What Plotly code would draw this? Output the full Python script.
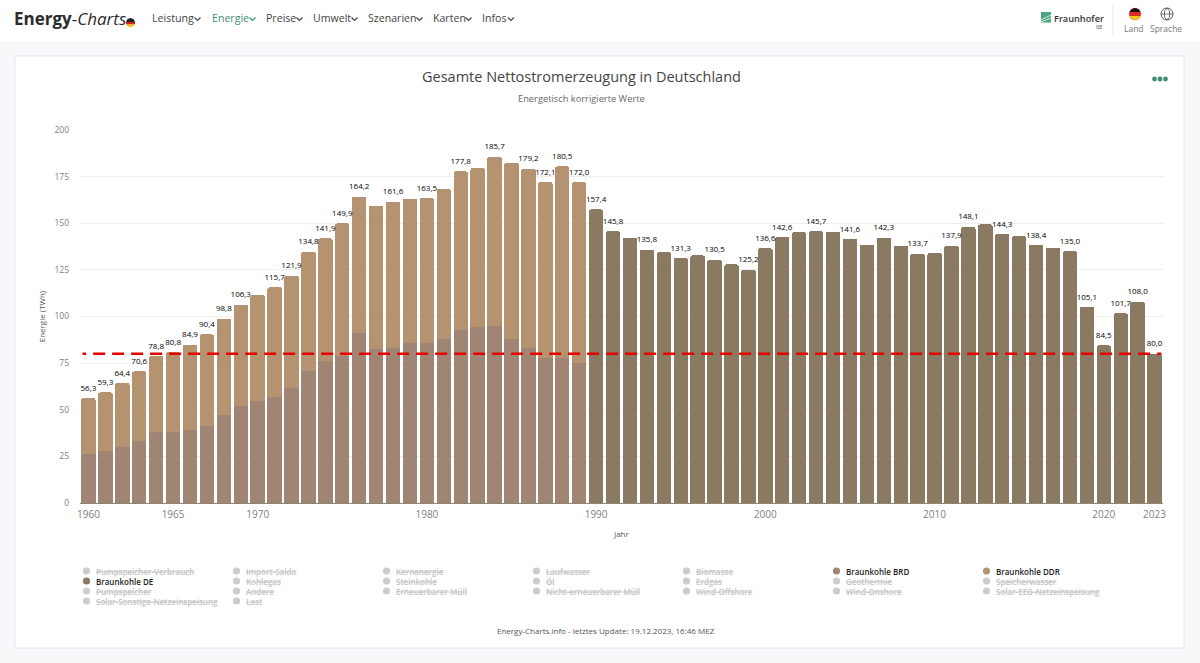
import plotly.graph_objects as go

W, H = 1200, 663

brd_years = list(range(1960, 1990))
de_years = list(range(1990, 2024))

braunkohle_brd = [26.3, 27.9, 30.0, 33.0, 38.2, 38.2, 39.3, 41.3, 47.3, 52.0,
                  54.5, 56.8, 61.7, 70.6, 76.3, 79.0, 91.0, 82.6, 83.0, 85.6,
                  85.6, 88.0, 93.0, 94.5, 95.0, 88.0, 83.0, 78.0, 78.0, 75.0]
braunkohle_ddr = [30.0, 31.4, 34.4, 37.6, 40.6, 42.6, 45.6, 49.1, 51.5, 54.3,
                  57.0, 58.9, 60.2, 64.2, 65.6, 70.9, 73.2, 76.7, 78.6, 77.6,
                  77.9, 80.3, 84.8, 85.3, 90.7, 94.5, 96.2, 94.1, 102.5, 97.0]
braunkohle_de = [157.4, 145.8, 142.3, 135.8, 134.5, 131.3, 132.8, 130.5, 128.0, 125.2,
                 136.6, 142.6, 145.2, 145.7, 145.3, 141.6, 138.5, 142.3, 138.0, 133.7,
                 134.0, 137.9, 148.1, 149.4, 144.3, 143.0, 138.4, 137.0, 135.0, 105.1,
                 84.5, 101.7, 108.0, 80.0]

label_years = [1960, 1961, 1962, 1963, 1964, 1965, 1966, 1967, 1968, 1969, 1971, 1972,
               1973, 1974, 1975, 1976, 1978, 1980, 1982, 1984, 1986, 1987, 1988, 1989,
               1990, 1991, 1993, 1995, 1997, 1999, 2000, 2001, 2003, 2005, 2007, 2009,
               2011, 2012, 2014, 2016, 2018, 2019, 2020, 2021, 2022, 2023]
label_values = [56.3, 59.3, 64.4, 70.6, 78.8, 80.8, 84.9, 90.4, 98.8, 106.3, 115.7, 121.9,
                134.8, 141.9, 149.9, 164.2, 161.6, 163.5, 177.8, 185.7, 179.2, 172.1, 180.5, 172.0,
                157.4, 145.8, 135.8, 131.3, 130.5, 125.2, 136.6, 142.6, 145.7, 141.6, 142.3, 133.7,
                137.9, 148.1, 144.3, 138.4, 135.0, 105.1, 84.5, 101.7, 108.0, 80.0]

ziel_x = [1959.65, 2023.4]
ziel_y = [80, 80]

x_ticks = [1960, 1965, 1970, 1980, 1990, 2000, 2010, 2020, 2023]
y_ticks = [0, 25, 50, 75, 100, 125, 150, 175, 200]

nav_items = ["Leistung", "Energie", "Preise", "Umwelt", "Szenarien", "Karten", "Infos"]
legend_rows = [
    ["Pumpspeicher-Verbrauch", "Import-Saldo", "Kernenergie", "Laufwasser", "Biomasse", "Braunkohle BRD", "Braunkohle DDR"],
    ["Braunkohle DE", "Kohlegas", "Steinkohle", "Öl", "Erdgas", "Geothermie", "Speicherwasser"],
    ["Pumpspeicher", "Andere", "Erneuerbarer Müll", "Nicht-erneuerbarer Müll", "Wind-Offshore", "Wind-Onshore", "Solar-EEG-Netzeinspeisung"],
    ["Solar-Sonstige-Netzeinspeisung", "Last"],
]

COL_BRD, COL_DDR, COL_DE = "#A08474", "#B59370", "#8B7A62"
legend_active = {"Braunkohle BRD": COL_BRD, "Braunkohle DDR": COL_DDR, "Braunkohle DE": COL_DE}
FONT = "Open Sans"
GREEN = "#3f8f73"


def px(x):
    return x / W


def py(y):
    return 1 - y / H


shapes, annos = [], []


def rect(x0, y0, x1, y1, fill, line=None, layer="below"):
    shapes.append(dict(type="rect", xref="paper", yref="paper", x0=px(x0), x1=px(x1), y0=py(y0), y1=py(y1),
                       fillcolor=fill, line=dict(color=line or fill, width=1 if line else 0), layer=layer))


def circle(cx, cy, r, fill, line=None):
    shapes.append(dict(type="circle", xref="paper", yref="paper", x0=px(cx - r), x1=px(cx + r),
                       y0=py(cy - r), y1=py(cy + r), fillcolor=fill,
                       line=dict(color=line or fill, width=1 if line else 0), layer="above"))


def text(x, y, s, size, color, anchor="left", family=FONT, **kw):
    fnt = dict(family=family, size=size, color=color)
    fnt.update(kw)
    annos.append(dict(xref="paper", yref="paper", x=px(x), y=py(y), text=s, showarrow=False,
                      xanchor=anchor, yanchor="middle", font=fnt, borderpad=0, borderwidth=0))


def path(points, color, width=1.2, fill=None, closed=False):
    d = "M" + " L".join(f"{px(a):.5f},{py(b):.5f}" for a, b in points) + (" Z" if closed else "")
    shapes.append(dict(type="path", xref="paper", yref="paper", path=d, fillcolor=fill,
                       line=dict(color=color, width=width), layer="above"))


def blob(points, fill):
    d = "M" + " L".join(f"{px(a):.5f},{py(b):.5f}" for a, b in points) + " Z"
    shapes.append(dict(type="path", xref="paper", yref="paper", path=d, fillcolor=fill,
                       line=dict(width=0), layer="above"))


# Page frame
rect(0, 0, W, 41, "#ffffff")
rect(15, 56, 1184, 648, "#ffffff", line="#e4e7ec")

# Header
text(14, 18, "<b>Energy</b>-<i>Charts</i>", 17, "#2b2b2b")
blob([(126, 22), (135, 22), (133.5, 19), (130.5, 18), (127.5, 19)], "#222222")
rect(126, 22, 135, 24.5, "#d8231f", layer="above")
blob([(126.5, 24.5), (134.5, 24.5), (133, 26.5), (130.5, 27.2), (128, 26.5)], "#f5c211")

nav_x = [152, 211.5, 266, 313, 368, 433, 482]
chev_x = [197.5, 252.5, 299.5, 354.5, 419.5, 468.5, 511]
for name, nx, cx in zip(nav_items, nav_x, chev_x):
    c = GREEN if name == "Energie" else "#444444"
    text(nx, 18, name, 10.6, c)
    path([(cx - 3, 17.5), (cx, 20.5), (cx + 3, 17.5)], c, 1.2)

# Fraunhofer logo
rect(1041, 12, 1051, 22.5, "#4aa583", layer="above")
path([(1041, 20), (1051, 15)], "#ffffff", 0.8)
path([(1041, 22), (1051, 18)], "#ffffff", 0.8)
text(1054, 18, "Fraunhofer", 9.2, "#333333", weight=600)
text(1103, 27, "ISE", 4.5, "#444444", anchor="right")
path([(1113, 5), (1113, 35)], "#e8e8e8", 1)

# Country and language icons
circle(1135, 14, 7, "#f2f2f2")
circle(1135, 14, 6, "#dd2a1f")
blob([(1129.5, 12), (1140.5, 12), (1138.5, 9.2), (1135, 8), (1131.5, 9.2)], "#111111")
blob([(1129.5, 16), (1140.5, 16), (1138.5, 18.8), (1135, 20), (1131.5, 18.8)], "#f6c915")
text(1134, 29, "Land", 8.5, "#7a7a7a", anchor="center")
circle(1167, 14, 6, "#ffffff", line="#555555")
path([(1161, 14), (1173, 14)], "#555555", 0.8)
path([(1167, 8), (1164.5, 11), (1164.5, 17), (1167, 20), (1169.5, 17), (1169.5, 11)], "#555555", 0.8, closed=True)
text(1166, 29, "Sprache", 8.5, "#7a7a7a", anchor="center")

# Card text
text(581.5, 76.5, "Gesamte Nettostromerzeugung in Deutschland", 14.5, "#444444", anchor="center", weight=500)
text(581.5, 98.5, "Energetisch korrigierte Werte", 9.3, "#666666", anchor="center")
for dx in (1154.5, 1160, 1165.5):
    circle(dx, 79, 2.4, GREEN)
text(606, 630, "Energy-Charts.info - letztes Update: 19.12.2023, 16:46 MEZ", 8, "#555555", anchor="center")
text(621, 533.5, "Jahr", 8, "#555555", anchor="center")

# Legend
leg_x = [86.5, 236.5, 386.5, 536.5, 686.5, 836.5, 986.5]
leg_y = [571, 581, 591, 601]
for row, ly in zip(legend_rows, leg_y):
    for name, lx in zip(row, leg_x):
        active = name in legend_active
        circle(lx, ly, 3.6, legend_active.get(name, "#cccccc"))
        if active:
            text(lx + 9.5, ly, name, 8, "#222222", weight=600)
        else:
            text(lx + 9.5, ly, name, 8, "#c4c4c4", weight=600, lineposition="through")

fig = go.Figure()
common = dict(width=0.85, hoverinfo="skip")
fig.add_trace(go.Bar(name="Braunkohle BRD", x=brd_years, y=braunkohle_brd, marker=dict(color=COL_BRD, line_width=0), **common))
fig.add_trace(go.Bar(name="Braunkohle DDR", x=brd_years, y=braunkohle_ddr, marker=dict(color=COL_DDR, line_width=0), **common))
fig.add_trace(go.Bar(name="Braunkohle DE", x=de_years, y=braunkohle_de, marker=dict(color=COL_DE, line_width=0), **common))

fig.add_trace(go.Scatter(
    x=ziel_x, y=ziel_y, mode="lines", hoverinfo="skip", name="Ziel",
    line=dict(color="#e60000", width=2.6,
              dash="3.6px,7px," + ",".join(["12px,7px"] * 58)),
))
fig.add_trace(go.Scatter(
    x=label_years, y=label_values, mode="markers+text", hoverinfo="skip", name="Werte",
    marker=dict(size=7, opacity=0),
    text=[f"{v:.1f}".replace(".", ",") for v in label_values],
    textposition="top center", cliponaxis=False,
    textfont=dict(family=FONT, size=8, color="#000000"),
))

fig.update_layout(
    width=W, height=H, margin=dict(l=0, r=0, t=0, b=0, pad=0, autoexpand=False),
    paper_bgcolor="#f6f8fa", plot_bgcolor="rgba(0,0,0,0)",
    barmode="stack", barcornerradius=2, showlegend=False, font=dict(family=FONT),
    shapes=shapes, annotations=annos,
    xaxis=dict(domain=[px(80), px(1163)], range=[1959.5, 2023.5], tickmode="array", tickvals=x_ticks,
               ticktext=[str(t) for t in x_ticks], ticks="", showgrid=False, zeroline=False,
               showline=True, linecolor="#8f8575", linewidth=1, anchor="y", automargin=False,
               ticklabelstandoff=2,
               tickfont=dict(family=FONT, size=10, color="#808080")),
    yaxis=dict(domain=[py(503), py(130)], range=[0, 200], tickmode="array", tickvals=y_ticks,
               ticks="", showgrid=True, gridcolor="#eeeeee", gridwidth=1, zeroline=False, showline=False,
               automargin=False,
               tickfont=dict(family=FONT, size=8.5, color="#808080"), ticklabelstandoff=10,
               title=dict(text="Energie (TWh)", font=dict(family=FONT, size=8, color="#555555"), standoff=7)),
)

fig.write_html("out.html", post_script="document.body.style.margin='0';document.body.style.overflow='hidden';",
               config=dict(displayModeBar=False))
